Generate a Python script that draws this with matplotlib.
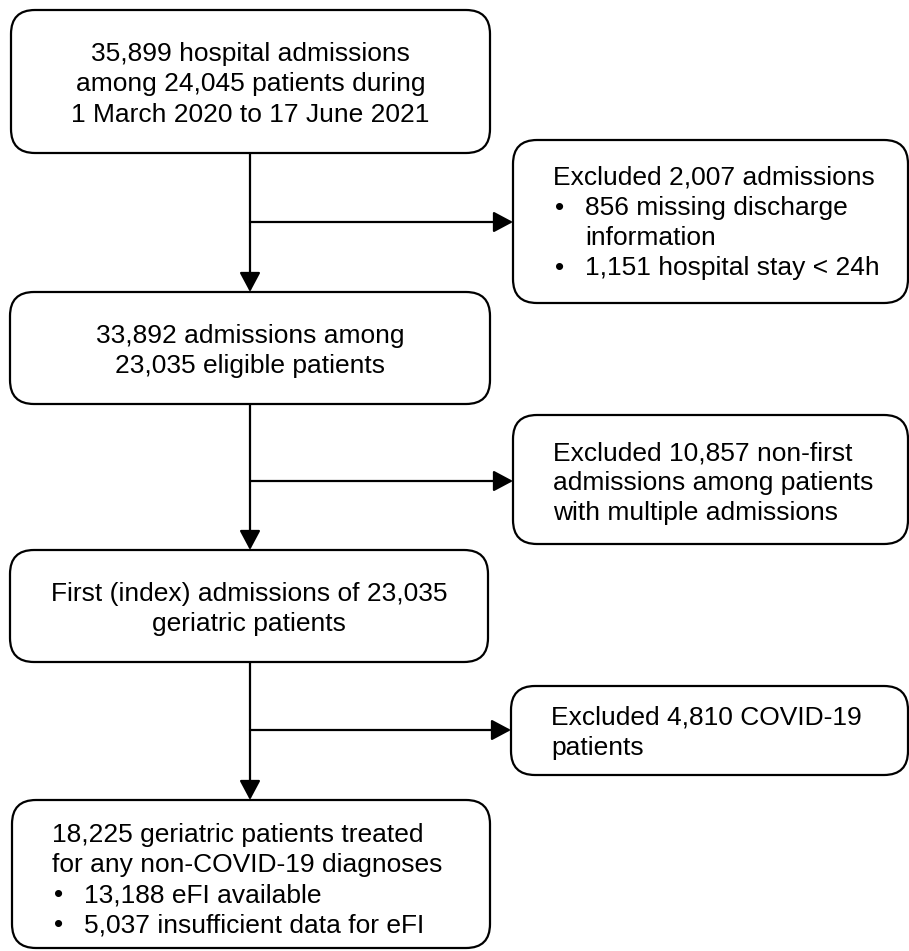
import matplotlib
matplotlib.use("Agg")
import matplotlib.pyplot as plt
from matplotlib.patches import FancyBboxPatch

plt.rcParams['font.family'] = ['Liberation Sans', 'DejaVu Sans']

# flow boxes: text lines (bullet lines start with "• ")
main_texts = [
    ["35,899 hospital admissions", "among 24,045 patients during", "1 March 2020 to 17 June 2021"],
    ["33,892 admissions among", "23,035 eligible patients"],
    ["First (index) admissions of 23,035", "geriatric patients"],
]
final_text = ["18,225 geriatric patients treated", "for any non-COVID-19 diagnoses",
              "• 13,188 eFI available", "• 5,037 insufficient data for eFI"]
excl_texts = [
    ["Excluded 2,007 admissions", "• 856 missing discharge", "  information", "• 1,151 hospital stay < 24h"],
    ["Excluded 10,857 non-first", "admissions among patients", "with multiple admissions"],
    ["Excluded 4,810 COVID-19", "patients"],
]

# layout in pixels (x0, y0, x1, y1)
main_boxes = [(11, 10, 490, 153), (10, 292, 490, 404), (10, 550, 488, 662)]
final_box = (12, 800, 490, 948)
excl_boxes = [(513, 140, 908, 303), (513, 415, 908, 544), (511, 686, 908, 775)]
branch_y = [222, 481, 730]
stem_x = 250
line_gap = 30
fs = 19

fig = plt.figure(figsize=(9.09, 9.51), dpi=100)
ax = fig.add_axes([0, 0, 1, 1])
ax.set_xlim(0, 909)
ax.set_ylim(951, 0)
ax.axis('off')


def draw_box(b):
    x0, y0, x1, y1 = b
    p = FancyBboxPatch((x0, y0), x1 - x0, y1 - y0,
                       boxstyle="round,pad=0,rounding_size=24",
                       fc='white', ec='black', lw=1.6, zorder=2)
    ax.add_patch(p)


def draw_lines(lines, b, left=None, first_base=None):
    x0, y0, x1, y1 = b
    n = len(lines)
    if first_base is None:
        mid = (y0 + y1) / 2
        first_base = mid - (n - 1) * line_gap / 2 + 10
    for i, s in enumerate(lines):
        yb = first_base + i * line_gap
        if left is None:
            ax.text((x0 + x1) / 2, yb, s, ha='center', va='baseline', fontsize=fs, zorder=3)
        else:
            if s.startswith("• "):
                ax.text(left + 2, yb, "•", ha='left', va='baseline', fontsize=fs, zorder=3)
                ax.text(left + 32, yb, s[2:], ha='left', va='baseline', fontsize=fs, zorder=3)
            elif s.startswith("  "):
                ax.text(left + 32, yb, s.strip(), ha='left', va='baseline', fontsize=fs, zorder=3)
            else:
                ax.text(left, yb, s, ha='left', va='baseline', fontsize=fs, zorder=3)


def arrow(xy_from, xy_to):
    ax.annotate("", xy=xy_to, xytext=xy_from,
                arrowprops=dict(arrowstyle='-|>,head_length=0.6,head_width=0.32',
                                mutation_scale=20, color='black', lw=1.6,
                                shrinkA=0, shrinkB=0), zorder=1)


for b, t in zip(main_boxes, main_texts):
    draw_box(b)
    draw_lines(t, b)
draw_box(final_box)
draw_lines(final_text, final_box, left=52, first_base=842)

excl_bases = [185, 460, 725]
for b, t, fb in zip(excl_boxes, excl_texts, excl_bases):
    draw_box(b)
    draw_lines(t, b, left=b[0] + 40, first_base=fb)

tops = [main_boxes[1][1], main_boxes[2][1], final_box[1]]
bottoms = [main_boxes[0][3], main_boxes[1][3], main_boxes[2][3]]
for i in range(3):
    arrow((stem_x, bottoms[i]), (stem_x, tops[i]))
    arrow((stem_x, branch_y[i]), (excl_boxes[i][0], branch_y[i]))

fig.savefig("out.png", dpi=100)
